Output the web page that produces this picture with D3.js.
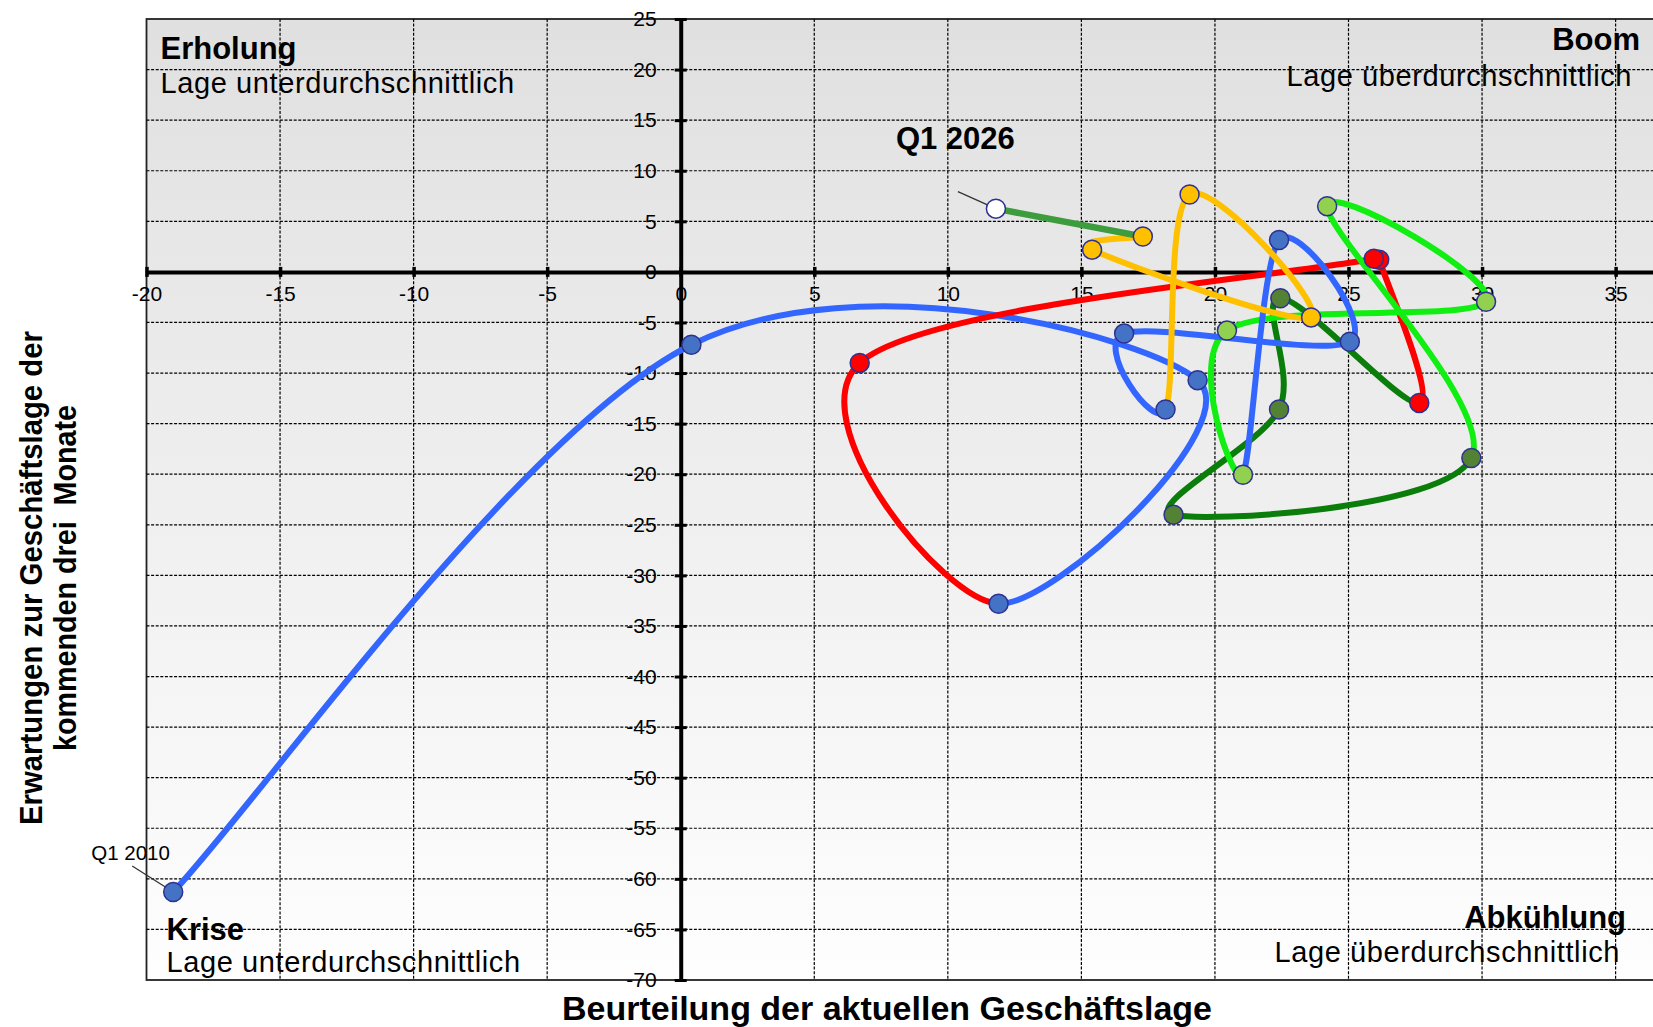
<!DOCTYPE html>
<html lang="de">
<head>
<meta charset="utf-8">
<title>Konjunkturuhr</title>
<script src="https://cdn.jsdelivr.net/npm/d3@7"></script>
<style>
    html, body { margin: 0; padding: 0; background: #fff; }
    #chart-area { width: 1653px; height: 1027px; }
    svg text { font-family: "Liberation Sans", Arial, sans-serif; fill: #000; }
</style>
</head>
<body>
<div id="chart-area"></div>
<script>
// x = Beurteilung der aktuellen Geschäftslage, y = Erwartungen (Salden)
// each color is its own series, the first point repeats the last one of the series before
const blueStart = [[-19.0, -61.3], [0.4, -7.2], [19.35, -10.7], [11.9, -32.8]];
const redPath = [[11.9, -32.8], [6.7, -9.0], [25.95, 1.3], [26.15, 1.2], [27.65, -12.95]];
const darkGreenPath = [[27.65, -12.95], [22.45, -2.6], [22.4, -13.6], [18.45, -24.0], [29.6, -18.4]];
const lightGreenPath = [[29.6, -18.4], [24.2, 6.5], [30.15, -2.95], [20.45, -5.8], [21.05, -20.05]];
const blueLate = [[21.05, -20.05], [22.4, 3.15], [25.05, -6.9], [16.6, -6.1], [18.15, -13.6]];
const orangePath = [[18.15, -13.6], [19.05, 7.65], [23.6, -4.5], [15.4, 2.2], [17.3, 3.5]];
const latestPath = [[17.3, 3.5], [11.8, 6.25]];

const xTicks = [-20, -15, -10, -5, 0, 5, 10, 15, 20, 25, 30, 35];
const yTicks = [25, 20, 15, 10, 5, 0, -5, -10, -15, -20, -25, -30, -35, -40, -45, -50, -55, -60, -65, -70];

const quadrantTitles = ["Erholung", "Boom", "Krise", "Abkühlung"];
const quadrantTexts = ["Lage unterdurchschnittlich", "Lage überdurchschnittlich", "Lage unterdurchschnittlich", "Lage überdurchschnittlich"];

const firstLabel = "Q1 2010";
const lastLabel = "Q1 2026";
const xTitle = "Beurteilung der aktuellen Geschäftslage";
const yTitle = ["Erwartungen zur Geschäftslage der", "kommenden drei  Monate"];

class KonjunkturVis {
    constructor(parentElement) {
        this.parentElement = parentElement;
        this.initVis();
    }

    initVis() {
        let vis = this;

        vis.width = 1653;
        vis.height = 1027;
        vis.plot = { left: 146.5, right: 1653, top: 19, bottom: 980 };

        vis.svg = d3.select("#" + vis.parentElement)
            .append("svg")
            .attr("width", vis.width)
            .attr("height", vis.height);

        vis.x = d3.scaleLinear().domain([-20, 36.4]).range([vis.plot.left, vis.plot.right]);
        vis.y = d3.scaleLinear().domain([-70, 25]).range([vis.plot.bottom, vis.plot.top]);

        let grad = vis.svg.append("defs")
            .append("linearGradient")
            .attr("id", "bg-grad")
            .attr("x1", 0).attr("y1", 0).attr("x2", 0).attr("y2", 1);
        grad.append("stop").attr("offset", "0%").attr("stop-color", "#e0e0e0");
        grad.append("stop").attr("offset", "100%").attr("stop-color", "#fefefe");

        vis.svg.append("rect")
            .attr("x", vis.plot.left)
            .attr("y", vis.plot.top)
            .attr("width", vis.plot.right - vis.plot.left + 10)
            .attr("height", vis.plot.bottom - vis.plot.top)
            .attr("fill", "url(#bg-grad)")
            .attr("stroke", "#222")
            .attr("stroke-width", 1.8);

        vis.gridGroup = vis.svg.append("g").attr("class", "grid");
        vis.axisGroup = vis.svg.append("g").attr("class", "axes");
        vis.textGroup = vis.svg.append("g").attr("class", "labels");
        vis.lineGroup = vis.svg.append("g").attr("class", "paths");
        vis.dotGroup = vis.svg.append("g").attr("class", "dots");

        vis.lineColors = ["#3366ff", "#ff0000", "#0b7d0b", "#11ee11", "#3366ff", "#ffc000", "#3d9c3d"];
        vis.dotColors = ["#4472c4", "#ff0000", "#548235", "#92d050", "#4472c4", "#ffc000", "#ffffff"];

        vis.wrangleData();
    }

    wrangleData() {
        let vis = this;
        vis.series = [blueStart, redPath, darkGreenPath, lightGreenPath, blueLate, orangePath, latestPath];

        // one running chain for the smoothed part, every point knows its series
        vis.chain = [];
        vis.dots = [];
        vis.series.forEach((s, i) => {
            s.forEach((p, j) => {
                if (i > 0 && j === 0) return;
                vis.dots.push({ x: p[0], y: p[1], color: vis.dotColors[i] });
                if (i < vis.series.length - 1) vis.chain.push({ x: p[0], y: p[1], s: i });
            });
        });
        // earlier points sit on top
        vis.dots.reverse();
        vis.updateVis();
    }

    // spreadsheet-like smoothing: Bezier arms of (p2 - p0) / 6, never longer than half the segment
    segmentPath(k) {
        let vis = this;
        let pts = vis.chain.map(d => [vis.x(d.x), vis.y(d.y)]);
        let n = pts.length;
        let p0 = pts[Math.max(k - 1, 0)], p1 = pts[k], p2 = pts[k + 1], p3 = pts[Math.min(k + 2, n - 1)];
        let seg = Math.hypot(p2[0] - p1[0], p2[1] - p1[1]);
        let arm = (a, b) => {
            let v = [(b[0] - a[0]) / 6, (b[1] - a[1]) / 6];
            let len = Math.hypot(v[0], v[1]);
            if (len > seg / 2) v = [v[0] * seg / 2 / len, v[1] * seg / 2 / len];
            return v;
        };
        let a1 = arm(p0, p2), a2 = arm(p1, p3);
        let path = d3.path();
        path.moveTo(p1[0], p1[1]);
        path.bezierCurveTo(p1[0] + a1[0], p1[1] + a1[1], p2[0] - a2[0], p2[1] - a2[1], p2[0], p2[1]);
        return path.toString();
    }

    updateVis() {
        let vis = this;
        let x0 = vis.x(0), y0 = vis.y(0);

        // dashed grid
        vis.gridGroup.selectAll(".vline")
            .data(xTicks.filter(d => d !== 0 && d !== -20))
            .enter().append("line")
            .attr("class", "vline")
            .attr("x1", d => vis.x(d)).attr("x2", d => vis.x(d))
            .attr("y1", vis.plot.top).attr("y2", vis.plot.bottom)
            .attr("stroke", "#000").attr("stroke-width", 1.2).attr("stroke-dasharray", "3,1.6");

        vis.gridGroup.selectAll(".hline")
            .data(yTicks.filter(d => d !== 0 && d !== 25 && d !== -70))
            .enter().append("line")
            .attr("class", "hline")
            .attr("x1", vis.plot.left).attr("x2", vis.plot.right)
            .attr("y1", d => vis.y(d)).attr("y2", d => vis.y(d))
            .attr("stroke", "#000").attr("stroke-width", 1.2).attr("stroke-dasharray", "3,1.6");

        // axes through the origin
        let fmt = d => String(d);
        let yAxis = vis.axisGroup.append("g")
            .attr("transform", `translate(${x0},0)`)
            .call(d3.axisLeft(vis.y).tickValues(yTicks).tickFormat(fmt)
                .tickSizeInner(6).tickSizeOuter(0).tickPadding(18));
        let xAxis = vis.axisGroup.append("g")
            .attr("transform", `translate(0,${y0})`)
            .call(d3.axisBottom(vis.x).tickValues(xTicks).tickFormat(fmt)
                .tickSizeInner(5).tickSizeOuter(0).tickPadding(9));

        yAxis.select(".domain").attr("stroke", "#000").attr("stroke-width", 4);
        xAxis.select(".domain").attr("stroke", "#000").attr("stroke-width", 4);
        yAxis.selectAll(".tick line").attr("x1", 6).attr("stroke-width", 3);
        xAxis.selectAll(".tick line").attr("y1", -5).attr("stroke-width", 3.5);
        vis.axisGroup.selectAll(".tick text")
            .attr("font-size", 21)
            .attr("font-family", "Liberation Sans, Arial, sans-serif")
            .attr("fill", "#000");

        // quadrant labels
        let left = vis.plot.left, right = vis.plot.right;
        let quads = [
            { t: 0, x: left + 14, y1: 59, y2: 93, anchor: "start" },
            { t: 1, x: right - 13, y1: 50, y2: 86, anchor: "end", sub: right - 21 },
            { t: 2, x: left + 20, y1: 940, y2: 972, anchor: "start" },
            { t: 3, x: right - 27, y1: 928, y2: 962, anchor: "end", sub: right - 33 }
        ];
        quads.forEach(q => {
            vis.textGroup.append("text")
                .attr("x", q.x).attr("y", q.y1)
                .attr("text-anchor", q.anchor)
                .attr("font-size", 31).attr("font-weight", "bold")
                .text(quadrantTitles[q.t]);
            vis.textGroup.append("text")
                .attr("x", q.sub || q.x).attr("y", q.y2)
                .attr("text-anchor", q.anchor)
                .attr("font-size", 29).attr("letter-spacing", 0.6)
                .text(quadrantTexts[q.t]);
        });

        // axis titles
        vis.textGroup.append("text")
            .attr("x", 887).attr("y", 1020)
            .attr("text-anchor", "middle")
            .attr("font-size", 34).attr("font-weight", "bold")
            .text(xTitle);

        vis.textGroup.selectAll(".ytitle")
            .data(yTitle)
            .enter().append("text")
            .attr("class", "ytitle")
            .attr("transform", (d, i) => `translate(${42 + i * 34},578) rotate(-90)`)
            .attr("text-anchor", "middle")
            .attr("font-size", 31).attr("font-weight", "bold")
            .attr("textLength", (d, i) => i === 0 ? 494 : 346)
            .attr("lengthAdjust", "spacingAndGlyphs")
            .style("white-space", "pre")
            .text(d => d);

        // smoothed chain, each segment in the colour of its series
        vis.lineGroup.selectAll(".seg")
            .data(d3.range(vis.chain.length - 1))
            .enter().append("path")
            .attr("class", "seg")
            .attr("d", k => vis.segmentPath(k))
            .attr("fill", "none")
            .attr("stroke", k => vis.lineColors[vis.chain[k + 1].s])
            .attr("stroke-width", 6)
            .attr("stroke-linecap", "round");

        // latest move as a straight line
        let line = d3.line().x(d => vis.x(d[0])).y(d => vis.y(d[1]));
        vis.lineGroup.append("path")
            .attr("d", line(latestPath))
            .attr("fill", "none")
            .attr("stroke", vis.lineColors[6])
            .attr("stroke-width", 6.5)
            .attr("stroke-linecap", "round");

        // call-outs for first and last point
        let first = blueStart[0];
        let last = latestPath[latestPath.length - 1];
        vis.lineGroup.append("line")
            .attr("x1", vis.x(first[0]) - 41).attr("y1", vis.y(first[1]) - 26)
            .attr("x2", vis.x(first[0])).attr("y2", vis.y(first[1]))
            .attr("stroke", "#333").attr("stroke-width", 1.3);
        vis.lineGroup.append("line")
            .attr("x1", vis.x(last[0]) - 38).attr("y1", vis.y(last[1]) - 17)
            .attr("x2", vis.x(last[0])).attr("y2", vis.y(last[1]))
            .attr("stroke", "#333").attr("stroke-width", 1.3);

        vis.dotGroup.selectAll("circle")
            .data(vis.dots)
            .enter().append("circle")
            .attr("cx", d => vis.x(d.x))
            .attr("cy", d => vis.y(d.y))
            .attr("r", 9.5)
            .attr("fill", d => d.color)
            .attr("stroke", "#2e3192")
            .attr("stroke-width", 1.5);

        vis.textGroup.append("text")
            .attr("x", vis.x(first[0]) - 82).attr("y", vis.y(first[1]) - 32)
            .attr("font-size", 20.5)
            .text(firstLabel);
        vis.textGroup.append("text")
            .attr("x", vis.x(last[0]) - 100).attr("y", vis.y(last[1]) - 60)
            .attr("font-size", 31).attr("font-weight", "bold")
            .text(lastLabel);
    }
}

new KonjunkturVis("chart-area");
</script>
</body>
</html>
